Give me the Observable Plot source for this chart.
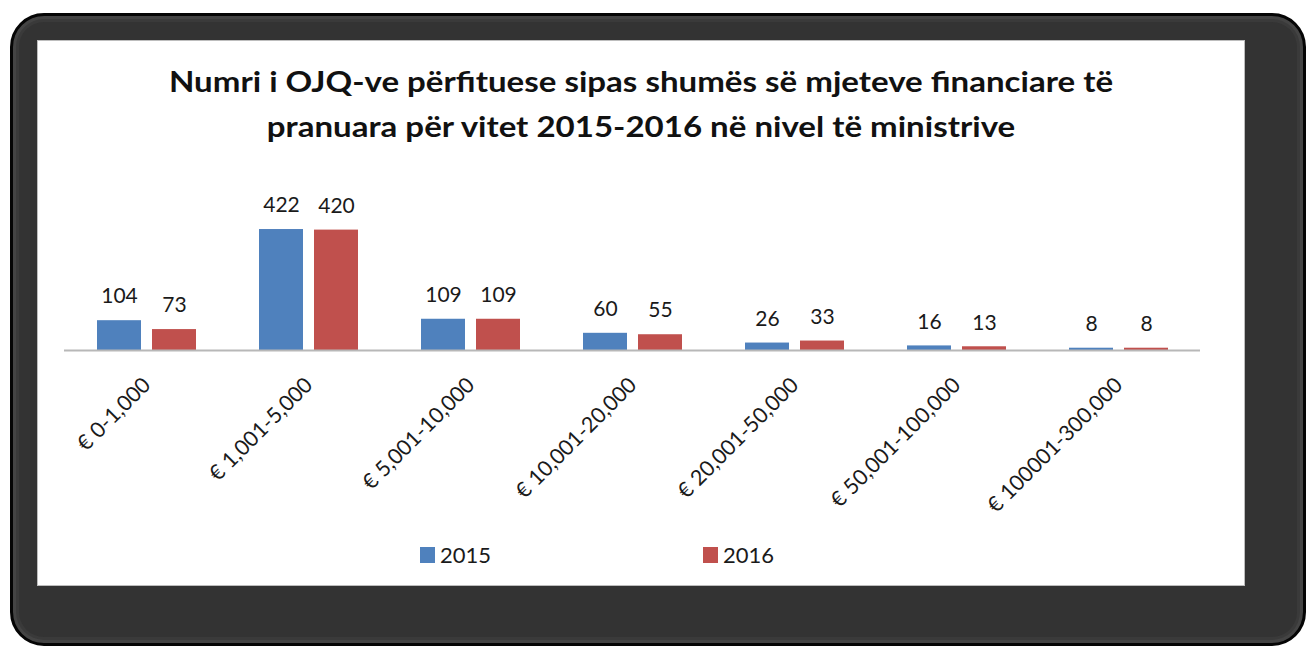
<!DOCTYPE html>
<html>
<head>
<meta charset="utf-8">
<script src="https://cdn.jsdelivr.net/npm/d3@7"></script>
<script src="https://cdn.jsdelivr.net/npm/@observablehq/plot@0.6"></script>
<style>
  html, body { margin: 0; padding: 0; background: #fff; width: 1306px; height: 650px; overflow: hidden; font-family: Lato, "Open Sans", sans-serif; }
  #frame { position: absolute; left: 10px; top: 13px; width: 1296px; height: 633px; box-sizing: border-box;
           border-radius: 34px; background: #333; border: 3px solid #050505;
           box-shadow: inset 0 0 0 3px #444, inset 0 0 0 6px #3a3a3a; }
  #panel { position: absolute; left: 37px; top: 40px; width: 1208px; height: 546px; box-sizing: border-box;
           background: #fff; border: 1px solid #bdbdbd; }
  #title { position: absolute; left: 37px; width: 1208px; top: 59px; text-align: center; font-weight: 700;
           font-size: 28px; line-height: 45px; color: #111; transform: scaleX(1.18); transform-origin: 604px 0; }
  #chart { position: absolute; left: 0; top: 150px; }
  .lg { position: absolute; font-size: 22px; color: #1a1a1a; line-height: 20px; }
  .sw { position: absolute; width: 15px; height: 16px; }
</style>
</head>
<body>
<div id="frame"></div>
<div id="panel"></div>
<div id="title">Numri i OJQ-ve përfituese sipas shumës së mjeteve financiare të<br>pranuara për vitet 2015-2016 në nivel të ministrive</div>
<div id="chart"></div>
<div id="legend"></div>
<script>
const categories = ["€ 0-1,000", "€ 1,001-5,000", "€ 5,001-10,000", "€ 10,001-20,000", "€ 20,001-50,000", "€ 50,001-100,000", "€ 100001-300,000"];
const values2015 = [104, 422, 109, 60, 26, 16, 8];
const values2016 = [73, 420, 109, 55, 33, 13, 8];
const seriesNames = ["2015", "2016"];
const colors = ["#4F81BD", "#C0504D"];

const rows2015 = categories.map((c, i) => ({cat: c, v: values2015[i]}));
const rows2016 = categories.map((c, i) => ({cat: c, v: values2016[i]}));

const chart = Plot.plot({
  width: 1306,
  height: 380,
  marginLeft: 64,
  marginRight: 106,
  marginTop: 71,
  marginBottom: 180,
  style: {fontFamily: "Lato, 'Open Sans', sans-serif", color: "#1a1a1a", background: "transparent"},
  x: {domain: categories, paddingInner: 0.39, paddingOuter: 0.2},
  y: {domain: [0, 450], axis: null},
  marks: [
    Plot.barY(rows2015, {x: "cat", y: "v", fill: colors[0], insetRight: 55}),
    Plot.barY(rows2016, {x: "cat", y: "v", fill: colors[1], insetLeft: 55}),
    Plot.ruleY([0], {stroke: "#b8b8b8", strokeWidth: 2}),
    Plot.text(rows2015, {x: "cat", y: "v", text: d => String(d.v), dx: -27.5, dy: -24, fontSize: 21, fill: "#1a1a1a"}),
    Plot.text(rows2016, {x: "cat", y: "v", text: d => String(d.v), dx: 27.5, dy: -24, fontSize: 21, fill: "#1a1a1a"}),
    Plot.axisX({tickRotate: -45, tickSize: 0, tickPadding: 31, fontSize: 21.5, label: null, fill: "#1a1a1a"})
  ]
});
document.getElementById("chart").appendChild(chart);

const legend = document.getElementById("legend");
const legendPos = [420, 703];
seriesNames.forEach((name, i) => {
  const sw = document.createElement("div");
  sw.className = "sw";
  sw.style.left = legendPos[i] + "px";
  sw.style.top = "547px";
  sw.style.background = colors[i];
  legend.appendChild(sw);
  const t = document.createElement("div");
  t.className = "lg";
  t.style.left = (legendPos[i] + 20) + "px";
  t.style.top = "545px";
  t.textContent = name;
  legend.appendChild(t);
});
</script>
</body>
</html>
